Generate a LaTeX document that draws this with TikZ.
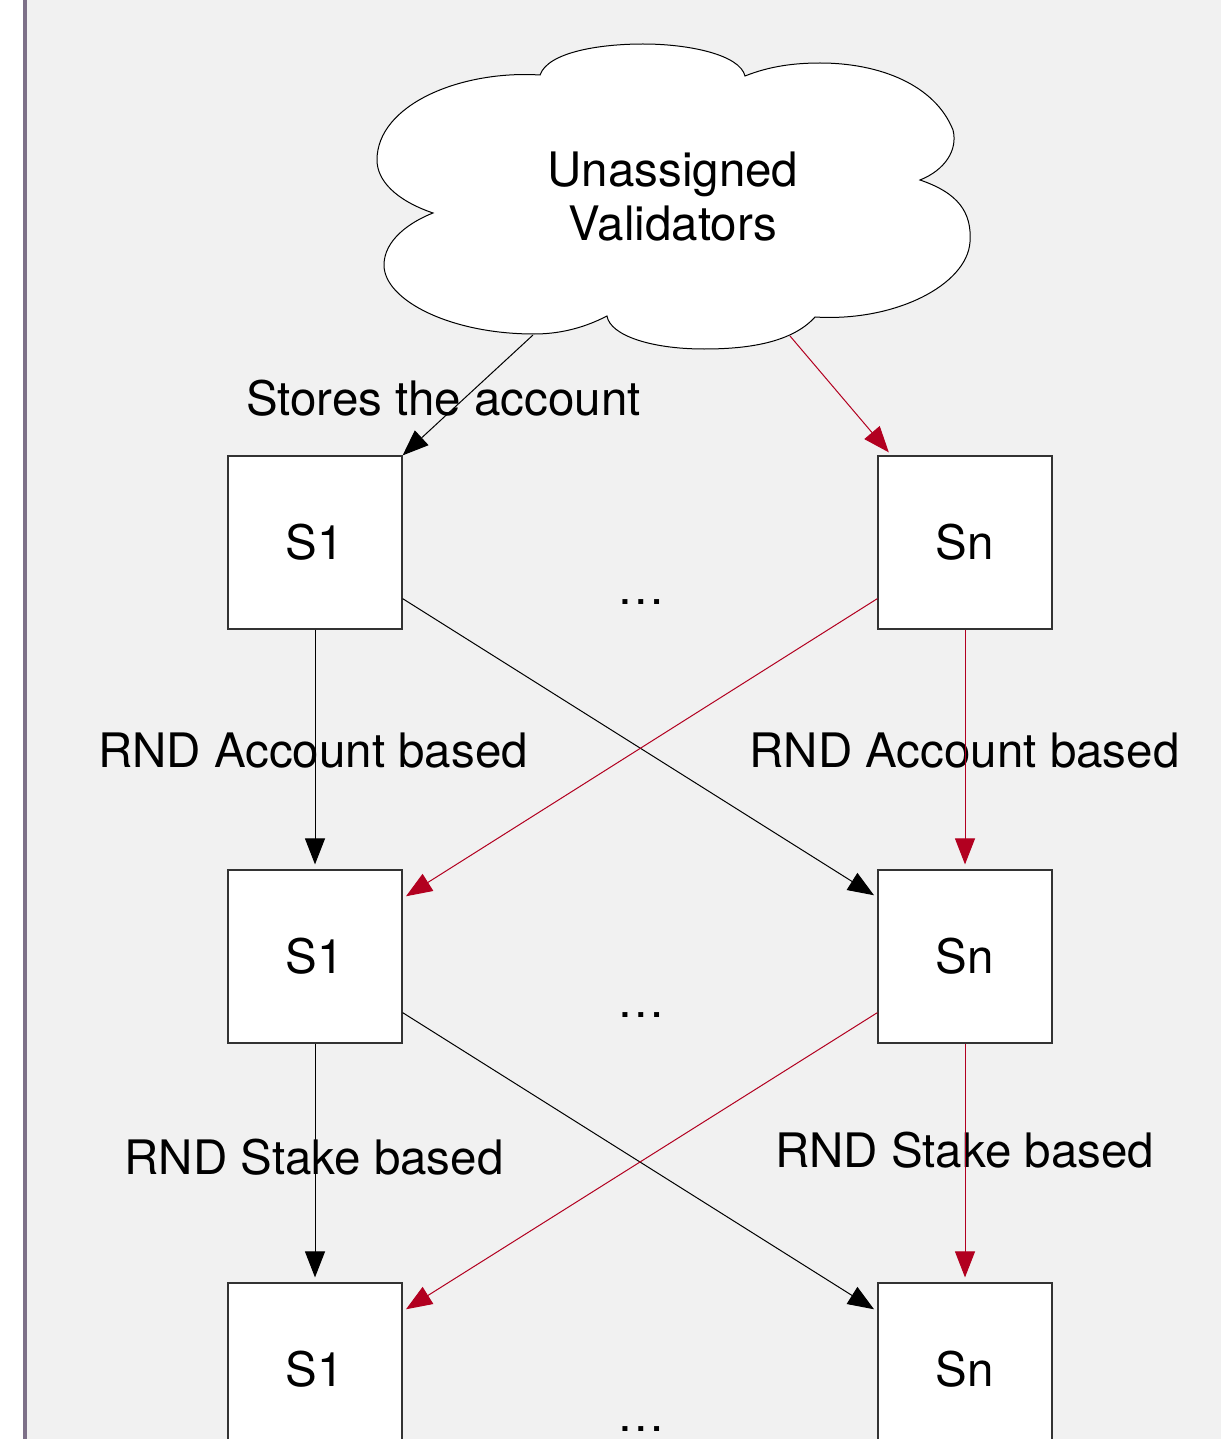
\documentclass[tikz,border=0pt]{standalone}
\usepackage{fontspec}
\setmainfont{TeX Gyre Heros}
\usetikzlibrary{arrows.meta,calc}
\definecolor{bg}{HTML}{F1F1F1}
\definecolor{framecol}{HTML}{7D7088}
\definecolor{redarrow}{HTML}{B20020}
\definecolor{boxline}{HTML}{333333}
\begin{document}
\begin{tikzpicture}[x=1pt,y=-1pt,
  txt/.style={font=\fontsize{47.5}{54}\selectfont, inner sep=0pt},
  shard/.style={draw=boxline, line width=1.2pt, fill=white, minimum width=174pt, minimum height=173pt, inner sep=0pt, font=\fontsize{47.5}{54}\selectfont},
  blk/.style={draw=black, line width=1pt, -{Triangle[length=26pt,width=20pt]}},
  rd/.style={draw=redarrow, line width=1pt, -{Triangle[length=26pt,width=20pt]}}]
\useasboundingbox (0,0) rectangle (1221,1439);
\clip (0,0) rectangle (1221,1439);
\fill[white] (0,0) rectangle (1221,1439);
\fill[bg] (25,0) rectangle (1221,1439);
\draw[framecol, line width=4pt] (25,-5) -- (25,1445);
% cloud
\draw[fill=white, line width=1pt] (540,75) .. controls (548,52) and (600,44) .. (643,44)
  .. controls (690,44) and (740,55) .. (745,76)
  .. controls (770,66) and (795,63) .. (820,63)
  .. controls (880,63) and (935,85) .. (953,130)
  .. controls (958,150) and (945,170) .. (920,180)
  .. controls (958,193) and (972,212) .. (970,242)
  .. controls (967,285) and (895,322) .. (815,317)
  .. controls (790,345) and (740,349) .. (704,349)
  .. controls (650,349) and (610,335) .. (607,316)
  .. controls (580,330) and (555,334) .. (534,334)
  .. controls (450,334) and (384,300) .. (384,265)
  .. controls (384,240) and (410,222) .. (433,213)
  .. controls (395,200) and (377,180) .. (377,160)
  .. controls (377,105) and (460,70) .. cycle;
\node[txt, align=center] (cloud) at (673,197) {Unassigned\\Validators};
\coordinate (cl1) at (533,335);
\coordinate (cl2) at (790,336);
% shard boxes
\node[shard] (s1a) at (315,542.5) {S1};
\node[shard] (sna) at (965,542.5) {Sn};
\node[shard] (s1b) at (315,956.5) {S1};
\node[shard] (snb) at (965,956.5) {Sn};
\node[shard] (s1c) at (315,1369.5) {S1};
\node[shard] (snc) at (965,1369.5) {Sn};
% dots
\node[txt, anchor=base] (dota) at (641,604) {\ldots};
\node[txt, anchor=base] (dotb) at (641,1017) {\ldots};
\node[txt, anchor=base] (dotc) at (641,1431) {\ldots};
% labels
\node[txt, anchor=base] (lstore) at (443.5,415) {Stores the account};
\node[txt, anchor=base] (lacc1) at (313,767) {RND Account based};
\node[txt, anchor=base] (lacc2) at (964.5,767) {RND Account based};
\node[txt, anchor=base] (lstk1) at (314,1174) {RND Stake based};
\node[txt, anchor=base] (lstk2) at (964.5,1167) {RND Stake based};
% arrows from cloud
\draw[blk] (cl1) -- (s1a.north east);
\draw[rd, shorten >=4pt] (cl2) -- ($(sna.north west)+(14,0)$);
% row 1 -> row 2
\draw[blk, shorten >=5pt] (s1a.south) -- (s1b.north);
\draw[rd, shorten >=5pt] (sna.south) -- (snb.north);
\draw[blk, shorten >=4pt] ($(s1a.south east)+(0,-31)$) -- ($(snb.north west)+(0,28)$);
\draw[rd, shorten >=4pt] ($(sna.south west)+(0,-31)$) -- ($(s1b.north east)+(0,29)$);
% row 2 -> row 3
\draw[blk, shorten >=5pt] (s1b.south) -- (s1c.north);
\draw[rd, shorten >=5pt] (snb.south) -- (snc.north);
\draw[blk, shorten >=4pt] ($(s1b.south east)+(0,-31)$) -- ($(snc.north west)+(0,29)$);
\draw[rd, shorten >=4pt] ($(snb.south west)+(0,-31)$) -- ($(s1c.north east)+(0,29)$);
\end{tikzpicture}
\end{document}
